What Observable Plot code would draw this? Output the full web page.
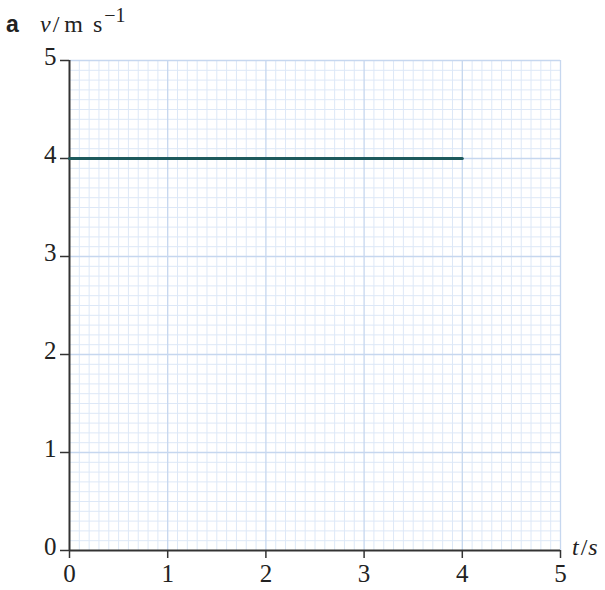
<!DOCTYPE html>
<html>
<head>
<meta charset="utf-8">
<script src="https://cdn.jsdelivr.net/npm/d3@7"></script>
<script src="https://cdn.jsdelivr.net/npm/@observablehq/plot@0.6"></script>
<style>
body { margin: 0; background: #fff; }
</style>
</head>
<body>
<div id="chart"></div>
<script>
const tData = [0, 4];
const vData = [4, 4];
const xTicks = [0, 1, 2, 3, 4, 5];
const yTicks = [0, 1, 2, 3, 4, 5];
const minorGrid = d3.range(1, 50).map(i => i / 10).filter(v => Math.abs(v - Math.round(v)) > 1e-9);
const majorGrid = [1, 2, 3, 4, 5];

const serif = "'Liberation Serif', 'Times New Roman', serif";
const sans = "'Liberation Sans', Arial, sans-serif";
const line = tData.map((t, i) => ({t, v: vData[i]}));

const chart = Plot.plot({
  width: 605,
  height: 590,
  marginLeft: 69,
  marginRight: 45,
  marginTop: 60,
  marginBottom: 40,
  x: {domain: [0, 5]},
  y: {domain: [0, 5]},
  style: {fontFamily: serif, background: "#fff", fontSize: "25px"},
  marks: [
    Plot.ruleX(minorGrid, {stroke: "#dde8f7", strokeWidth: 1}),
    Plot.ruleY(minorGrid, {stroke: "#dde8f7", strokeWidth: 1}),
    Plot.ruleX(majorGrid, {stroke: "#c6d7ef", strokeWidth: 1.3}),
    Plot.ruleY(majorGrid, {stroke: "#c6d7ef", strokeWidth: 1.3}),
    Plot.axisX({ticks: xTicks, tickFormat: "d", tickSize: 8, tickPadding: 6, fontSize: 25, label: null, stroke: "#333", strokeWidth: 1.5, fill: "#222"}),
    Plot.axisY({ticks: yTicks, tickFormat: "d", tickSize: 9, tickPadding: 4, fontSize: 25, label: null, stroke: "#333", strokeWidth: 1.5, fill: "#222"}),
    Plot.ruleX([0], {stroke: "#333", strokeWidth: 2}),
    Plot.ruleY([0], {stroke: "#333", strokeWidth: 2}),
    Plot.line(line, {x: "t", y: "v", stroke: "#1d5a5c", strokeWidth: 3}),
  ]
});

const svg = d3.select(chart);
svg.selectAll("g[aria-label='x-axis tick label'] text, g[aria-label='y-axis tick label'] text")
  .style("font-size", "25px").style("font-family", serif);
// y tick labels sit slightly above their ticks, as in the reference
svg.selectAll("g[aria-label='y-axis tick label']").each(function() {
  const g = d3.select(this);
  g.attr("transform", (g.attr("transform") || "") + " translate(0,-4)");
});

const xs = chart.scale("x"), ys = chart.scale("y");

// x-axis label "t/s" at the end of the axis
const tx = xs.apply(5), ty = ys.apply(0);
const tl = svg.append("text").attr("x", tx + 12).attr("y", ty + 5).attr("text-anchor", "start")
  .style("font-size", "24px").style("font-family", serif).attr("fill", "#222");
tl.append("tspan").style("font-style", "italic").text("t");
tl.append("tspan").attr("dx", 2).text("/");
tl.append("tspan").attr("dx", 1).style("font-style", "italic").text("s");

// Top-left label "a v/m s⁻¹"
const lbl = svg.append("text").attr("x", 6).attr("y", 32).attr("text-anchor", "start")
  .style("font-size", "24px").style("font-family", serif).attr("fill", "#222");
lbl.append("tspan").style("font-family", sans).style("font-weight", "bold").style("font-size", "23px").text("a");
lbl.append("tspan").attr("x", 40).style("font-style", "italic").text("v");
lbl.append("tspan").attr("dx", 2).text("/");
lbl.append("tspan").attr("dx", 5).text("m");
lbl.append("tspan").attr("dx", 10).text("s");
lbl.append("tspan").attr("dx", 2).attr("dy", -10).style("font-size", "20px").text("−1");

document.getElementById("chart").appendChild(chart);
</script>
</body>
</html>
